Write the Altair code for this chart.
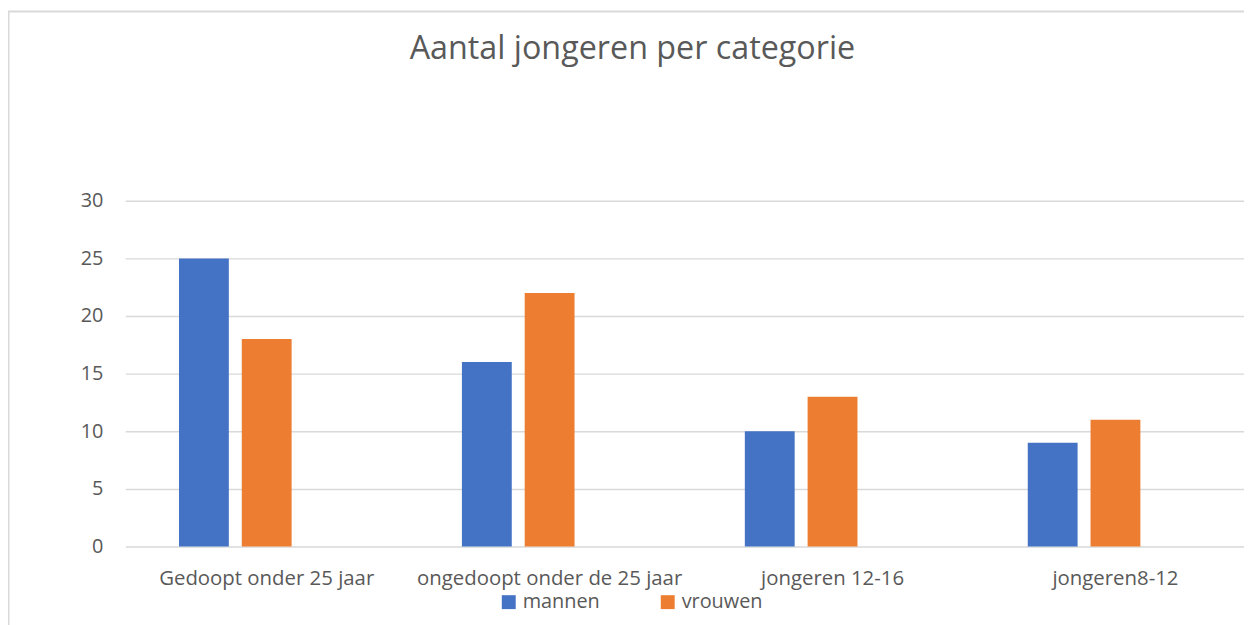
import altair as alt
import pandas as pd

categories = ["Gedoopt onder 25 jaar", "ongedoopt onder de 25 jaar", "jongeren 12-16", "jongeren8-12"]
mannen = [25, 16, 10, 9]
vrouwen = [18, 22, 13, 11]
series = ["mannen", "vrouwen"]
colors = ["#4472C4", "#ED7D31"]

rows = []
for c, m, v in zip(categories, mannen, vrouwen):
    rows.append({"categorie": c, "serie": "mannen", "aantal": m})
    rows.append({"categorie": c, "serie": "vrouwen", "aantal": v})
df = pd.DataFrame(rows)

FONT = "Open Sans"
TXT = "#595959"
GRID = "#D9D9D9"

bars = alt.Chart(df).mark_bar().encode(
    x=alt.X(
        "categorie:N",
        sort=categories,
        scale=alt.Scale(paddingInner=0.38, paddingOuter=0.19, round=False),
        axis=alt.Axis(
            title=None, labelAngle=0, labelFontSize=20.5, labelColor=TXT, labelFont=FONT,
            labelPadding=22, ticks=False, domain=False, grid=False, labelLimit=400,
        ),
    ),
    xOffset=alt.XOffset(
        "serie:N",
        scale=alt.Scale(domain=["mannen", "vrouwen", "_leeg"], paddingInner=0.206, paddingOuter=0, round=False),
    ),
    y=alt.Y(
        "aantal:Q",
        scale=alt.Scale(domain=[0, 30], nice=False),
        axis=alt.Axis(
            title=None, values=[0, 5, 10, 15, 20, 25, 30], labelFontSize=20, labelColor=TXT,
            labelFont=FONT, labelPadding=22.5, ticks=False, domain=False,
            gridColor=GRID, gridWidth=1.5,
        ),
    ),
    color=alt.Color(
        "serie:N",
        scale=alt.Scale(domain=series, range=colors),
        legend=alt.Legend(
            title=None, orient="none", direction="horizontal", legendX=376, legendY=46 + 348,
            symbolType="square", symbolSize=196, symbolStrokeWidth=0, labelFontSize=20,
            labelColor=TXT, labelFont=FONT, labelOffset=4, columnPadding=58,
        ),
    ),
)

frame = pd.DataFrame({"k": [0]})
top_border = alt.Chart(frame).mark_rule(color=GRID, strokeWidth=2).encode(
    x=alt.value(-118), x2=alt.value(1140), y=alt.value(-190.5)
)
left_border = alt.Chart(frame).mark_rule(color=GRID, strokeWidth=2).encode(
    x=alt.value(-117.5), y=alt.value(-191), y2=alt.value(430)
)

chart = alt.layer(bars, top_border, left_border).properties(
    width=1139,
    height=348,
    autosize=alt.AutoSizeParams(type="none"),
    padding={"left": 118, "top": 192, "right": -13, "bottom": 77},
    title=alt.TitleParams(
        "Aantal jongeren per categorie", fontSize=32.5, font=FONT, fontWeight="normal",
        color=TXT, anchor="middle", offset=-82, dx=-59, baseline="alphabetic",
    ),
).configure_view(stroke=None)

chart.save("out.html", embed_options={"renderer": "svg", "actions": False})
